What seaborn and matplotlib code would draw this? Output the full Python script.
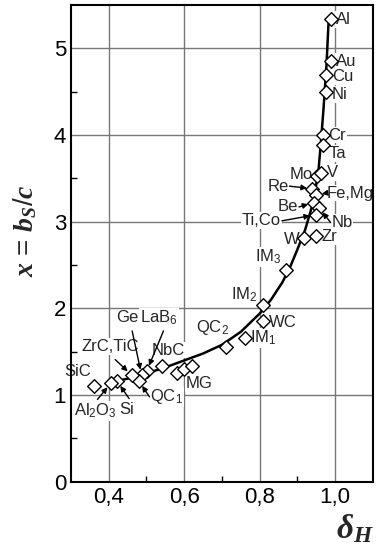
import numpy as np
import pandas as pd
import matplotlib
matplotlib.use("Agg")
import matplotlib.pyplot as plt
import seaborn as sns

#################################################################
# data
#################################################################

names = ["Al", "Au", "Cu", "Ni", "Cr", "Ta", "Mo", "V", "Re", "Fe,Mg", "Be", "Nb",
         "Ti,Co", "W", "Zr", "IM3", "IM2", "WC", "IM1", "QC2", "MG_a", "MG_b", "MG_c",
         "NbC", "LaB6", "Ge", "QC1", "ZrC,TiC", "Si", "Al2O3", "SiC"]
delta_h = [0.989, 0.989, 0.977, 0.977, 0.969, 0.969, 0.951, 0.963, 0.940, 0.950, 0.943, 0.958,
           0.948, 0.918, 0.949, 0.870, 0.809, 0.809, 0.761, 0.711, 0.580, 0.600, 0.621,
           0.541, 0.501, 0.487, 0.480, 0.461, 0.422, 0.406, 0.361]
x_bs = [5.34, 4.85, 4.69, 4.50, 4.00, 3.89, 3.53, 3.56, 3.38, 3.31, 3.22, 3.16,
        3.08, 2.81, 2.83, 2.44, 2.04, 1.85, 1.66, 1.55, 1.26, 1.30, 1.34,
        1.33, 1.28, 1.23, 1.16, 1.23, 1.16, 1.14, 1.10]

# fitted curve
curve_dh = [0.405, 0.43, 0.46, 0.50, 0.55, 0.60, 0.65, 0.70, 0.75, 0.80, 0.83, 0.86,
            0.88, 0.90, 0.92, 0.935, 0.947, 0.956, 0.963, 0.970, 0.977, 0.983]
curve_x = [1.15, 1.17, 1.20, 1.25, 1.32, 1.40, 1.48, 1.58, 1.73, 1.94, 2.10, 2.30,
           2.47, 2.68, 2.90, 3.12, 3.35, 3.60, 3.95, 4.35, 4.80, 5.34]

x_ticks = [0.4, 0.6, 0.8, 1.0]
x_ticklabels = ["0,4", "0,6", "0,8", "1,0"]
y_ticks = [0, 1, 2, 3, 4, 5]

df = pd.DataFrame({"name": names, "dh": delta_h, "x": x_bs})
curve = pd.DataFrame({"dh": curve_dh, "x": curve_x})

#################################################################
# style
#################################################################

sns.set_style("white")
plt.rcParams["font.family"] = ["Liberation Sans", "DejaVu Sans"]
plt.rcParams["mathtext.fontset"] = "custom"
plt.rcParams["mathtext.rm"] = "Liberation Sans"
plt.rcParams["mathtext.it"] = "Liberation Serif:italic:bold"
plt.rcParams["mathtext.bf"] = "Liberation Serif:bold"

fig = plt.figure(figsize=(3.84, 5.5), dpi=100)
ax = fig.add_axes([0.185, 0.124, 0.786, 0.867])

#################################################################
# plot
#################################################################

sns.lineplot(data=curve, x="dh", y="x", color="black", lw=1.8, sort=False,
             ax=ax, zorder=3)
sns.scatterplot(data=df, x="dh", y="x", marker="D", s=48, facecolor="white",
                edgecolor="black", linewidth=1.0, ax=ax, zorder=4)

ax.set_xlim(0.3, 1.1)
ax.set_ylim(0, 5.5)
ax.set_xticks(x_ticks)
ax.set_xticklabels(x_ticklabels)
ax.set_yticks(y_ticks)
ax.set_xticks([0.5, 0.7, 0.9], minor=True)
ax.set_yticks([0.5, 1.5, 2.5, 3.5, 4.5], minor=True)
ax.tick_params(which="both", direction="in", labelsize=16, colors="black")
ax.tick_params(which="major", length=5, width=1)
ax.tick_params(which="minor", length=4, width=1, left=True, bottom=True)
ax.grid(True, which="major", color="#777777", lw=1.0, zorder=0)
ax.set_axisbelow(True)
for s in ax.spines.values():
    s.set_linewidth(1.5)
    s.set_color("black")
ax.set_xlabel("")
ax.set_ylabel("")

# point labels (text, text pos, alignment, arrow target index)
lbl = dict(fontsize=12, va="center", zorder=2,
           bbox=dict(boxstyle="square,pad=0.05", fc="white", ec="none"))
labels = [
    ("Al", 1.002, 5.33, "left", None),
    ("Au", 1.002, 4.85, "left", None),
    ("Cu", 0.991, 4.67, "left", None),
    ("Ni", 0.991, 4.47, "left", None),
    ("Cr", 0.982, 4.00, "left", None),
    ("Ta", 0.982, 3.79, "left", None),
    ("V", 0.977, 3.57, "left", None),
    ("Mo", 0.940, 3.54, "right", None),
    ("W", 0.907, 2.80, "right", None),
    ("Zr", 0.963, 2.83, "left", None),
    ("IM$_3$", 0.858, 2.59, "right", None),
    ("IM$_2$", 0.795, 2.16, "right", None),
    ("WC", 0.824, 1.84, "left", None),
    ("IM$_1$", 0.775, 1.66, "left", None),
    ("QC$_2$", 0.676, 1.78, "center", None),
    ("NbC", 0.558, 1.52, "center", None),
    ("MG", 0.604, 1.13, "left", None),
    ("SiC", 0.318, 1.27, "center", None),
    ("Re", 0.877, 3.41, "right", 8),
    ("Fe,Mg", 0.978, 3.33, "left", 9),
    ("Be", 0.902, 3.17, "right", 10),
    ("Nb", 0.990, 2.99, "left", 11),
    ("Ti,Co", 0.857, 3.01, "right", 12),
    ("QC$_1$", 0.510, 0.98, "left", 26),
    ("ZrC,TiC", 0.405, 1.56, "center", 27),
    ("Si", 0.448, 0.83, "center", 28),
    ("Al$_2$O$_3$", 0.364, 0.82, "center", 29),
    ("Ge", 0.450, 1.89, "center", 25),
    ("LaB$_6$", 0.533, 1.89, "center", 24),
]
for txt, tx, ty, ha, idx in labels:
    ax.text(tx, ty, txt, ha=ha, **lbl)
    if idx is not None:
        px, py = delta_h[idx], x_bs[idx]
        if ha == "right":
            sx, sy = tx + 0.002, ty
        elif ha == "left":
            sx, sy = tx - 0.002, ty
        elif ty > py:
            sx, sy = tx + 0.012, ty - 0.15
        else:
            sx, sy = tx + 0.006, ty + 0.13
        ax.annotate("", xy=(px, py), xytext=(sx, sy), zorder=5,
                    arrowprops=dict(arrowstyle="-|>", color="black", lw=1.0,
                                    mutation_scale=8, shrinkA=0, shrinkB=4))

# axis titles
fig.text(0.066, 0.58, r"$x$ = $b_S/c$", rotation=90, ha="center", va="center",
         fontsize=20)
fig.text(0.925, 0.038, r"$\delta_H$", ha="center", va="center", fontsize=24)

plt.savefig("out.png", dpi=100)
plt.close()
